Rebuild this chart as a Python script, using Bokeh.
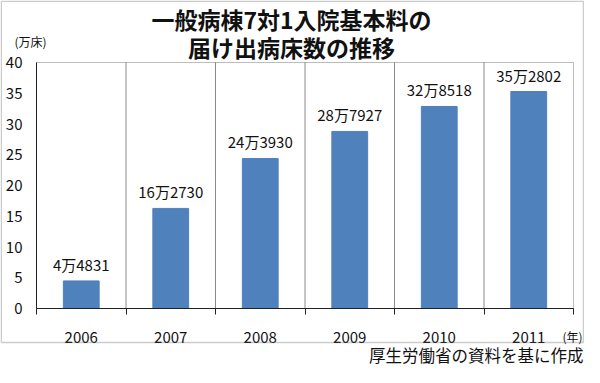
from bokeh.plotting import figure
from bokeh.models import (ColumnDataSource, FixedTicker, Range1d, Label, BoxAnnotation, LinearAxis)
from bokeh.core.properties import value
from bokeh.embed import file_html
from bokeh.resources import INLINE

years = ["2006", "2007", "2008", "2009", "2010", "2011"]
values = [4.4831, 16.2730, 24.3930, 28.7927, 32.8518, 35.2802]
bar_labels = ["4万4831", "16万2730", "24万3930", "28万7927", "32万8518", "35万2802"]
y_ticks = [0, 5, 10, 15, 20, 25, 30, 35, 40]
title_lines = ["一般病棟7対1入院基本料の", "届け出病床数の推移"]
y_unit = "(万床)"
x_unit = "(年)"
source_note = "厚生労働省の資料を基に作成"

FONT = "Noto Sans CJK JP"
BAR = "#4f81bd"
INK = "#111111"

W, H = 584, 367
# plot-area box in canvas pixels
FL, FR, FT, FB = 36, 573, 62, 308
n = len(years)
ymax = y_ticks[-1]
kx = (FR - FL) / n
ky = (FB - FT) / ymax

def dx(px):
    return (px - FL) / kx

def dy(py):
    return (FB - py) / ky

p = figure(width=W, height=H, output_backend="svg", toolbar_location=None,
           x_range=Range1d(dx(0), dx(W)), y_range=Range1d(dy(H), dy(0)),
           x_axis_location=None, y_axis_location=None,
           min_border=0, min_border_left=0, min_border_right=0,
           min_border_top=0, min_border_bottom=0)
p.background_fill_color = "white"
p.border_fill_color = "white"
p.outline_line_color = None
p.xgrid.grid_line_color = None
p.ygrid.grid_line_color = None

centers = [i + 0.5 for i in range(n)]
src = ColumnDataSource(dict(x=centers, top=values, label=bar_labels))

# category separators
seps = list(range(1, n))
p.segment(x0=seps, y0=[0] * len(seps), x1=seps, y1=[ymax] * len(seps),
          line_color="#8a8a8a", line_width=1)

p.vbar(x="x", top="top", width=0.4, bottom=0, source=src, color=BAR)
p.text(x="x", y="top", text="label", source=src, text_align="center", text_baseline="bottom",
       y_offset=-6, text_font=value(FONT), text_font_size="15px", text_color=INK)

# plot-area box
p.add_layout(BoxAnnotation(left=0, right=n, bottom=0, top=ymax, fill_color=None,
                           line_color="#222222", line_width=1))

# y axis
yax = LinearAxis(fixed_location=0, bounds=(0, ymax))
yax.ticker = FixedTicker(ticks=y_ticks)
yax.major_tick_line_color = None
yax.major_tick_out = 0
yax.major_tick_in = 0
yax.minor_tick_line_color = None
yax.axis_line_color = "#222222"
yax.major_label_text_font = FONT
yax.major_label_text_font_size = "15px"
yax.major_label_text_color = INK
yax.major_label_standoff = 14
p.add_layout(yax, "left")

# x axis
xax = LinearAxis(fixed_location=0, bounds=(0, n))
xax.ticker = FixedTicker(ticks=centers, minor_ticks=list(range(n + 1)))
xax.major_label_overrides = {c: y for c, y in zip(centers, years)}
xax.major_tick_line_color = None
xax.major_tick_out = 0
xax.major_tick_in = 0
xax.minor_tick_line_color = "#222222"
xax.minor_tick_out = 6
xax.minor_tick_in = 0
xax.axis_line_color = "#222222"
xax.major_label_text_font = FONT
xax.major_label_text_font_size = "15px"
xax.major_label_text_color = INK
xax.major_label_standoff = 17
p.add_layout(xax, "below")

# texts
for t, cy in zip(title_lines, [18, 46]):
    p.add_layout(Label(x=dx(291), y=dy(cy), text=t, text_align="center",
                       text_baseline="middle", text_font=FONT, text_font_size="23px",
                       text_font_style="bold", text_color=INK))

p.add_layout(Label(x=dx(30), y=dy(41), text=y_unit, text_align="center", text_baseline="middle",
                   text_font=FONT, text_font_size="12px", text_color=INK))
p.add_layout(Label(x=dx(572), y=dy(336), text=x_unit, text_align="center", text_baseline="middle",
                   text_font=FONT, text_font_size="12px", text_color=INK))
p.add_layout(Label(x=dx(583), y=dy(354.5), text=source_note, text_align="right", text_baseline="middle",
                   text_font=FONT, text_font_size="16.5px", text_color=INK))

# outer frame
p.add_layout(BoxAnnotation(left=dx(0.75), right=dx(583), top=dy(0.75), bottom=dy(342),
                           fill_color=None, line_color="#555555", line_width=1.5))

open("out.html", "w").write(file_html(p, INLINE))
